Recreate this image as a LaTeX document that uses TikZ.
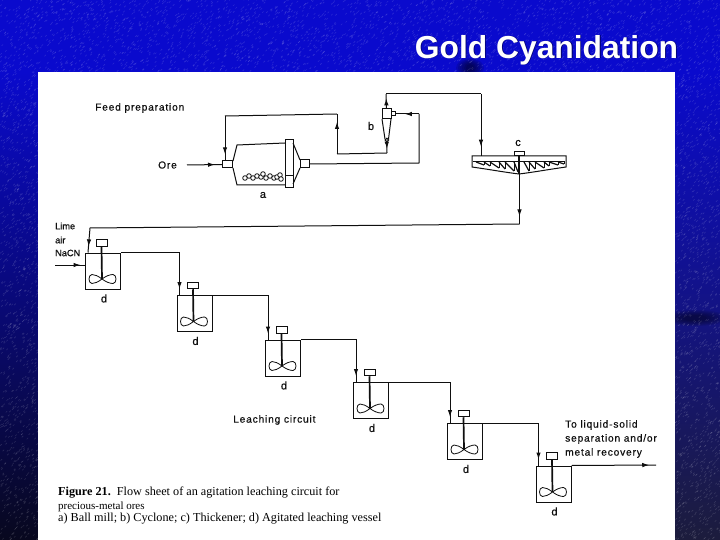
\documentclass[tikz,border=0pt]{standalone}
\usepackage{fontspec}
\usetikzlibrary{arrows.meta,calc,decorations.markings}
\newfontfamily\titlefont{Liberation Sans}
\newfontfamily\labelfont[LetterSpace=8,FakeBold=0.4]{Liberation Sans}
\newfontfamily\reagfont[FakeBold=0.4]{Liberation Sans}
\newfontfamily\capfont{Liberation Serif}
\definecolor{clrTop}{RGB}{10,10,205}
\definecolor{clrLeftB}{RGB}{8,8,30}
\definecolor{clrRightB}{RGB}{28,28,60}
\definecolor{clrInk}{RGB}{15,15,15}
\tikzset{
  flowline/.style={draw=clrInk,line width=1pt},
  flowtip/.style={postaction=decorate,decoration={markings,mark=at position #1 with {\arrow{Latex[length=7pt,width=4.5pt]}}}},
  partbox/.style={draw=clrInk,line width=1pt,fill=white,inner sep=0pt},
  tanklabel/.style={font=\labelfont\fontsize{11}{12}\selectfont,text=clrInk,inner sep=0pt},
  planlabel/.style={font=\labelfont\fontsize{10.2}{14}\selectfont,text=clrInk,inner sep=0pt,anchor=west},
  reaglabel/.style={font=\reagfont\fontsize{9.2}{11}\selectfont,text=clrInk,inner sep=0pt,anchor=west},
  caplabel/.style={font=\capfont\fontsize{12.2}{13}\selectfont,text=black,inner sep=0pt,anchor=west},
  titlelabel/.style={font=\titlefont\bfseries\fontsize{31.8}{36}\selectfont,inner sep=0pt}
}
\begin{document}
\begin{tikzpicture}[x=1pt,y=-1pt]
  \useasboundingbox (0,0) rectangle (720,540);
  % slide background
  \fill[clrTop] (0,0) rectangle (720,75);
  \shade[top color=clrTop,bottom color=clrLeftB] (0,72) rectangle (39,540);
  \shade[top color=clrTop,middle color=clrTop!70!black,bottom color=clrRightB] (675,72) rectangle (720,540);
  \foreach \k in {1,...,6}{
    \fill[black,opacity=0.12] (470,68) ellipse ({16-2*\k} and {11-1.2*\k});
    \fill[black,opacity=0.09] (695,318) ellipse ({36-4*\k} and {9-\k});
  }
  \pgfmathsetseed{21}
  \foreach \x/\y/\w/\h/\cnt in {0/0/720/72/3000,0/72/38/468/1100,675/72/45/468/1300}{
    \foreach \i in {1,...,\cnt}{
      \pgfmathsetmacro{\px}{\x+rnd*\w}
      \pgfmathsetmacro{\py}{\y+rnd*\h}
      \draw[white,opacity=0.13,line width=0.6pt] (\px,\py) -- ++(1.5,-1.5);
    }
  }
  \fill[white] (38,72) rectangle (675,540);
  \node[titlelabel,text=black!60!blue] (titleshadow) at (547.3,50.7) {Gold Cyanidation};
  \node[titlelabel,text=white] (title) at (546.5,50) {Gold Cyanidation};

  % ball mill
  \node[partbox,minimum width=8,minimum height=48] (millring) at (289,164) {};
  \node[partbox,minimum width=9,minimum height=8] (millout) at (304.5,164) {};
  \node[partbox,minimum width=10,minimum height=7] (millin) at (227.5,164.5) {};
  \draw[flowline] (233,161) -- (237,145) -- (285,143) (233,168) -- (237,185) -- (285,185);
  \draw[flowline] (293,143) -- (300,160) (293,184) -- (300,168);
  \draw[flowline] (285,176) -- (293,176);
  \foreach \x/\y in {245/178,249/176,253/178,257/176,261/177,263/174,266/178,270/176,274/178,277/177,280/175,281/179}{
    \draw[clrInk,line width=0.8pt,fill=white] (\x,\y) circle (2.3);
  }
  \node[tanklabel] (lbla) at (263,195) {a};

  % cyclone
  \node[partbox,minimum width=9,minimum height=10] (cyclone) at (386.5,114) {};
  \node[partbox,minimum width=4,minimum height=4] (cyclonein) at (393,114) {};
  \draw[flowline] (382,119) -- (385,139) (391,119) -- (388.5,139);
  \node[partbox,circle,minimum size=3.5] (cyclonetip) at (386.8,140) {};
  \node[tanklabel] (lblb) at (371,126) {b};

  % thickener
  \draw[flowline,fill=white] (472,156) -- (566,156) -- (566,167) .. controls (545,170) and (535,172) .. (519,174) .. controls (503,172) and (493,170) .. (472,167) -- cycle;
  \draw[flowline] (473,162) -- (565,162);
  \foreach \xa/\xb/\yb in {476/484/165,484/490/166,490/499/168,499/505/169,505/514/171,514/518/172,524/529/171,529/535/169,535/544/168,544/549/166,549/558/165,558/564/164}{
    \draw[clrInk,line width=1.2pt] (\xa,162) -- (\xb,\yb);
    \draw[clrInk,line width=0.9pt] (\xb,162) -- (\xb,\yb);
  }
  \node[partbox,minimum width=10,minimum height=4] (thickdrive) at (519,154) {};
  \draw[flowline,line width=1.5pt] (thickdrive.south) -- (519,174);
  \node[tanklabel] (lblc) at (518,143) {c};

  % leaching vessels
  \foreach \n/\x/\y in {1/103/271,2/194.5/313.5,3/283/358,4/371/400.5,5/465/441.5,6/553.5/484}{
    \node[partbox,minimum width=35,minimum height=36] (tank\n) at (\x,\y) {};
    \node[partbox,minimum width=11,minimum height=6.5] (motor\n) at (\x-1.5,\y-28) {};
    \coordinate (hub\n) at (\x-1,\y+8);
    \draw[clrInk,line width=1.7pt] (motor\n.south) -- (hub\n);
    \begin{scope}[shift={(hub\n)}]
      \draw[clrInk,line width=0.8pt] (0,0) .. controls (-4,-3) and (-7,-4.5) .. (-10,-4.5) .. controls (-14,-4.5) and (-14,4.5) .. (-10,4.5) .. controls (-7,4.5) and (-4,3) .. (0,0);
      \draw[clrInk,line width=0.8pt] (0,0) .. controls (4,-3) and (8,-4.5) .. (11,-4.5) .. controls (15,-4.5) and (15,4.5) .. (11,4.5) .. controls (8,4.5) and (4,3) .. (0,0);
    \end{scope}
    \coordinate (in\n) at ($(tank\n.north west)+(3,0)$);
    \node[tanklabel] (lbld\n) at (\x+1,\y+27.5) {d};
  }

  % main flow
  \coordinate (orefeed) at (187,165);
  \draw[flowline,flowtip=0.8] (orefeed) -- (millin.west);
  \coordinate (mbend1) at (419,163);
  \coordinate (mbend2) at (419,114);
  \draw[flowline] (millout.east) -- (mbend1) -- (mbend2);
  \draw[flowline,flowtip=0.6] (mbend2) -- (cyclonein.east);
  % cyclone underflow back to the mill
  \coordinate (ubend1) at (387,153);
  \coordinate (ubend2) at (337,154);
  \coordinate (ubend3) at (337,114);
  \coordinate (ubend4) at (225,116);
  \draw[flowline,flowtip=0.6] (cyclonetip.south) -- (ubend1);
  \draw[flowline] (ubend1) -- (ubend2);
  \draw[flowline,flowtip=0.8] (ubend2) -- (ubend3);
  \draw[flowline] (ubend3) -- (ubend4);
  \draw[flowline,flowtip=0.86] (ubend4) -- (millin.north -| ubend4);
  % cyclone overflow to thickener
  \coordinate (obend1) at (386,94);
  \coordinate (obend2) at (481,94);
  \coordinate (thickin) at (481,156);
  \draw[flowline,flowtip=0.7] (cyclone.north) -- (obend1);
  \draw[flowline] (obend1) -- (obend2);
  \draw[flowline,flowtip=0.85] (obend2) -- (thickin);
  % thickener underflow to first vessel
  \coordinate (tbend1) at (519.5,224);
  \coordinate (tbend2) at (90,228);
  \draw[flowline,flowtip=0.85] (519.5,174) -- (tbend1);
  \draw[flowline] (tbend1) -- (tbend2);
  \draw[flowline,flowtip=0.75] (tbend2) -- (in1);
  \coordinate (reagfeed) at (55,265);
  \draw[flowline,flowtip=0.85] (reagfeed) -- (reagfeed -| tank1.west);
  % vessel to vessel
  \foreach \a/\b in {1/2,2/3,3/4,4/5,5/6}{
    \draw[flowline,flowtip=-6pt] (tank\a.north east) -| (in\b);
  }
  \coordinate (product) at (656,465);
  \draw[flowline,flowtip=0.92] (tank6.north east) -- (product);

  % labels
  \node[planlabel] (feedlbl) at (95,108) {Feed preparation};
  \node[planlabel] (orelbl) at (158,165) {Ore};
  \node[reaglabel] (limelbl) at (55,226) {Lime};
  \node[reaglabel] (airlbl) at (55,240) {air};
  \node[reaglabel] (naclbl) at (55,253) {NaCN};
  \node[planlabel] (leachlbl) at (233,420) {Leaching circuit};
  \node[planlabel,align=left] (tolbl) at (565,439) {To liquid-solid\\separation and/or\\metal recovery};
  \node[caplabel] (cap1) at (58,492.5) {\textbf{Figure 21.}\ \ Flow sheet of an agitation leaching circuit for};
  \node[caplabel,font=\capfont\fontsize{11}{13}\selectfont] (cap2) at (58,506.5) {precious-metal ores};
  \node[caplabel] (cap3) at (58,519) {a) Ball mill; b) Cyclone; c) Thickener; d) Agitated leaching vessel};
\end{tikzpicture}
\end{document}
